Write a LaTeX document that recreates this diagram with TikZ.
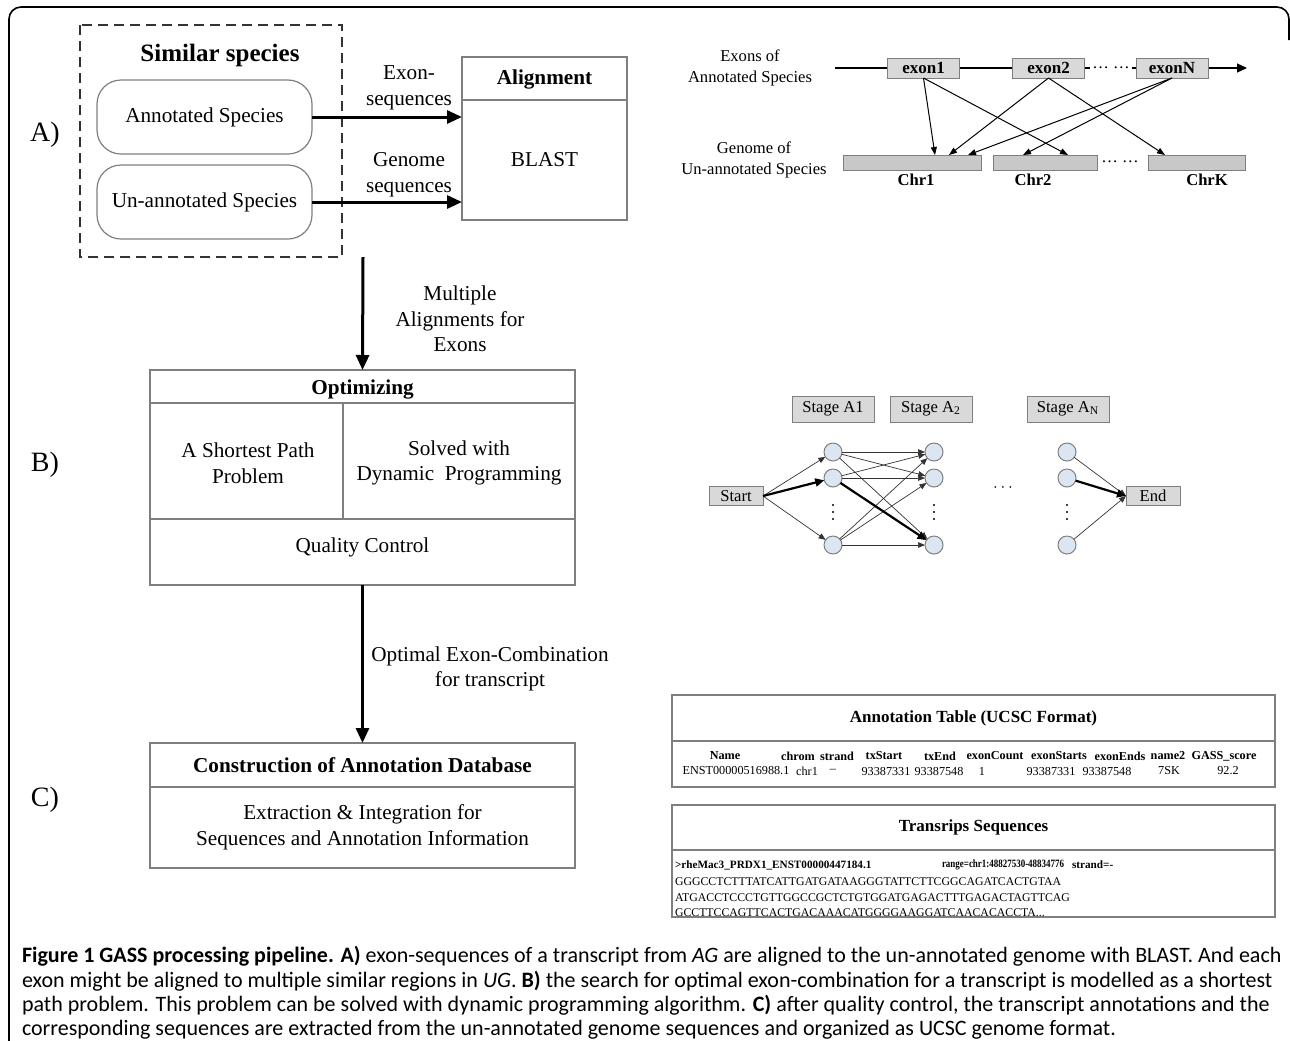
\documentclass[tikz,border=0pt]{standalone}
\usepackage{fontspec}
\usepackage{graphicx}
\setmainfont{Liberation Serif}
\newfontfamily\capfont{Carlito}
\usetikzlibrary{positioning,arrows.meta}

\definecolor{boxgray}{HTML}{D9D9D9}
\definecolor{bargray}{HTML}{C8C8C8}
\definecolor{edgegray}{HTML}{7F7F7F}
\definecolor{statefill}{HTML}{DCE6F2}

\begin{document}
\begin{tikzpicture}[
  x=0.5pt, y=-0.5pt,
  every node/.style={inner sep=0pt, outer sep=0pt},
  panel/.style={draw=edgegray, line width=0.6pt},
  big/.style={font=\fontsize{10.6}{12.8}\selectfont, align=center},
  bigb/.style={font=\bfseries\fontsize{10.6}{12.8}\selectfont, align=center},
  letter/.style={font=\fontsize{14}{16}\selectfont},
  species/.style={panel, rounded corners=12pt, minimum width=107.5pt, minimum height=37pt, big},
  groupbox/.style={draw=black!80, line width=0.7pt, dash pattern=on 5pt off 3pt},
  flow/.style={-{Triangle[length=7.5pt,width=6.5pt]}, line width=1.5pt},
  small/.style={font=\fontsize{8.3}{10.5}\selectfont, align=center},
  smallb/.style={font=\bfseries\fontsize{8.3}{10.5}\selectfont},
  exonbox/.style={draw=edgegray, fill=boxgray, line width=0.5pt, minimum width=36pt, minimum height=10pt, font=\bfseries\fontsize{8.5}{9}\selectfont},
  chrbar/.style={draw=edgegray, fill=bargray, line width=0.5pt, minimum height=7.5pt},
  hit/.style={-{Triangle[length=4pt,width=3pt]}, line width=0.5pt},
  stagebox/.style={draw=edgegray, fill=boxgray, line width=0.5pt, minimum width=41pt, minimum height=13pt, small},
  termbox/.style={draw=edgegray, fill=boxgray, line width=0.5pt, minimum width=27pt, minimum height=9.5pt, small},
  state/.style={circle, draw=edgegray, fill=statefill, line width=0.5pt, minimum size=9pt},
  link/.style={-{Triangle[length=3.5pt,width=2.8pt]}, line width=0.35pt, draw=black!80},
  bestlink/.style={-{Triangle[length=4.5pt,width=4pt]}, line width=1.1pt},
  tabtitle/.style={font=\bfseries\fontsize{8.5}{10}\selectfont},
  tabhead/.style={font=\bfseries\fontsize{6.1}{7}\selectfont},
  tabcell/.style={font=\fontsize{6.1}{7}\selectfont},
  seqhead/.style={anchor=west, font=\bfseries\fontsize{5.6}{7}\selectfont},
  seqline/.style={anchor=west, font=\fontsize{5.9}{7}\selectfont},
  capline/.style={anchor=base west, font=\capfont\fontsize{11}{12.5}\selectfont}
]
\useasboundingbox (0,0) rectangle (1290,1040);

% outer frame
\draw[line width=0.8pt, rounded corners=6pt] (9,1045) -- (9,7) -- (1289,7) -- (1289,40);

% panel letters
\node[letter] (lblA) at (45,135) {A)};
\node[letter] (lblB) at (45,465) {B)};
\node[letter] (lblC) at (45,800) {C)};

% A) alignment
\draw[groupbox] (80,25) rectangle (342,257);
\node[font=\bfseries\fontsize{12.5}{14}\selectfont] (simtitle) at (220,55) {Similar species};
\node[species] (annsp) at (204.5,117) {Annotated Species};
\node[species] (unsp) at (204.5,202) {Un-annotated Species};
\node[panel, minimum width=82.5pt, minimum height=81.5pt] (align) at (544.5,138.5) {};
\draw[panel] (align.west |- 0,100) -- (align.east |- 0,100);
\node[bigb] (aligntitle) at (544.5,79) {Alignment};
\node[big] (blast) at (544.5,160) {BLAST};
\draw[flow] (annsp.east) -- (annsp.east -| align.west);
\draw[flow] (unsp.east) -- (unsp.east -| align.west);
\node[big] (exlbl) at (409,88) {Exon-\\sequences};
\node[big] (gelbl) at (409,175) {Genome\\sequences};

% B) optimizing
\coordinate (maTop) at (363,257);
\node[panel, minimum width=212.5pt, minimum height=107.5pt] (opt) at (362.5,477.5) {};
\draw[panel] (opt.west |- 0,403) -- (opt.east |- 0,403);
\draw[panel] (opt.west |- 0,519) -- (opt.east |- 0,519);
\draw[panel] (343,403) -- (343,519);
\node[bigb] (opttitle) at (362.5,389) {Optimizing};
\node[big] (shortp) at (248,463) {A Shortest Path\\Problem};
\node[big] (dynp) at (459,463) {Solved with\\Dynamic\ \ Programming};
\node[big] (qc) at (362.5,547) {Quality Control};
\draw[flow] (maTop) -- (opt.north);
\node[big] (malbl) at (460,319) {Multiple\\Alignments for\\Exons};

% C) database
\node[panel, minimum width=212.5pt, minimum height=62.5pt] (cons) at (362.5,805.5) {};
\draw[panel] (cons.west |- 0,787) -- (cons.east |- 0,787);
\node[bigb] (constitle) at (362.5,765) {Construction of Annotation Database};
\node[big] (extract) at (362.5,827) {Extraction \& Integration for\\Sequences and Annotation Information};
\draw[flow] (opt.south) -- (cons.north);
\node[big] (oclbl) at (490,669) {Optimal Exon-Combination\\for transcript};

% exons to chromosomes
\node[small] (exlab) at (750,68) {Exons of\\Annotated Species};
\node[small] (gelab) at (754,160) {Genome of\\Un-annotated Species};
\coordinate (seqStart) at (835,68);
\coordinate (seqEnd) at (1247,68);
\draw[line width=0.6pt, -{Triangle[length=5pt,width=4.5pt]}] (seqStart) -- (seqEnd);
\node[exonbox] (ex1) at (923.5,68) {exon1};
\node[exonbox] (ex2) at (1048.5,68) {exon2};
\node[exonbox] (exn) at (1172,68) {exonN};
\node[small, fill=white, inner sep=1pt] (exdots) at (1111,68) {…\ …};
\node[chrbar, minimum width=69pt] (chr1) at (912,162.5) {};
\node[chrbar, minimum width=52pt] (chr2) at (1045,162.5) {};
\node[chrbar, minimum width=48.5pt] (chrk) at (1196.5,162.5) {};
\node[small] (chrdots) at (1120,162) {…\ …};
\node[smallb] (chr1lbl) at (916,180) {Chr1};
\node[smallb] (chr2lbl) at (1033,180) {Chr2};
\node[smallb] (chrklbl) at (1207,180) {ChrK};
\draw[hit] (ex1.south) -- (935,0 |- chr1.north);
\draw[hit] (ex1.south) -- (1068,0 |- chr2.north);
\draw[hit] (ex2.south) -- (949,0 |- chr1.north);
\draw[hit] (ex2.south) -- (1165,0 |- chrk.north);
\draw[hit] (exn.south) -- (968,0 |- chr1.north);
\draw[hit] (exn.south) -- (1023,0 |- chr2.north);

% stage graph
\node[stagebox] (stA1) at (833,409) {Stage A1};
\node[stagebox] (stA2) at (931,409) {Stage A\textsubscript{2}};
\node[stagebox] (stAN) at (1068,409) {Stage A\textsubscript{N}};
\foreach \col/\x in {1/833, 2/934, n/1067} {
  \foreach \row/\y in {1/452, 2/478, n/545}
    \node[state] (c\col\row) at (\x,\y) {};
  % vertical dots
  \foreach \y in {505,512,519}
    \fill (\x,\y) circle (0.6pt);
}
\node[termbox] (start) at (736,496) {Start};
\node[termbox] (finish) at (1153,496) {End};
\node[small] (gap) at (1003,488) {$\cdots$};
\foreach \r in {1,n}
  \draw[link] (start.east) -- (c1\r);
\draw[bestlink] (start.east) -- (c12);
\foreach \a in {1,2,n}
  \foreach \b in {1,2,n}
    \draw[link] (c1\a) -- (c2\b);
\draw[bestlink] (c12) -- (c2n);
\foreach \r in {1,n}
  \draw[link] (cn\r) -- (finish.west);
\draw[bestlink] (cn2) -- (finish.west);

% annotation table
\node[panel, minimum width=301.5pt, minimum height=46pt] (anntab) at (973.5,741) {};
\draw[panel] (anntab.west |- 0,741) -- (anntab.east |- 0,741);
\node[tabtitle] (anntitle) at (973.5,718) {Annotation Table (UCSC Format)};
\foreach \x/\t [count=\i] in {725/Name, 798/chrom, 837/strand, 884/txStart, 940/txEnd,
    995/exonCount, 1059/exonStarts, 1120/exonEnds, 1168/name2, 1224/GASS\_score}
  \node[tabhead] (head\i) at (\x,756) {\t};
\foreach \x/\t [count=\i] in {736/ENST00000516988.1, 807/chr1, 833/--, 886/93387331, 939/93387548,
    982/1, 1051/93387331, 1107/93387548, 1169/7SK, 1228/92.2}
  \node[tabcell] (cell\i) at (\x,771) {\t};

% transcript sequences
\node[panel, minimum width=301.5pt, minimum height=56pt] (seqtab) at (973.5,861) {};
\draw[panel] (seqtab.west |- 0,850) -- (seqtab.east |- 0,850);
\node[tabtitle] (seqtitle) at (973.5,827) {Transrips Sequences};
\node[seqhead] (seqid) at (675,865) {>rheMac3\_PRDX1\_ENST00000447184.1};
\node[seqhead] (seqrange) at (942,865) {\scalebox{0.8}[1]{range=chr1:48827530-48834776}};
\node[seqhead] (seqstrand) at (1072,865) {strand=-};
\node[seqline] (seq1) at (675,882) {GGGCCTCTTTATCATTGATGATAAGGGTATTCTTCGGCAGATCACTGTAA};
\node[seqline] (seq2) at (675,898) {ATGACCTCCCTGTTGGCCGCTCTGTGGATGAGACTTTGAGACTAGTTCAG};
\node[seqline] (seq3) at (675,913) {GCCTTCCAGTTCACTGACAAACATGGGGAAGGATCAACACACCTA...};

% caption
\node[capline] (cap1) at (22,962) {\textbf{Figure 1 GASS processing pipeline. A)} exon-sequences of a transcript from \textit{AG} are aligned to the un-annotated genome with BLAST. And each};
\node[capline] (cap2) at (22,987) {exon might be aligned to multiple similar regions in \textit{UG}. \textbf{B)} the search for optimal exon-combination for a transcript is modelled as a shortest};
\node[capline] (cap3) at (22,1011) {path problem. This problem can be solved with dynamic programming algorithm. \textbf{C)} after quality control, the transcript annotations and the};
\node[capline] (cap4) at (22,1035) {corresponding sequences are extracted from the un-annotated genome sequences and organized as UCSC genome format.};
\end{tikzpicture}
\end{document}
